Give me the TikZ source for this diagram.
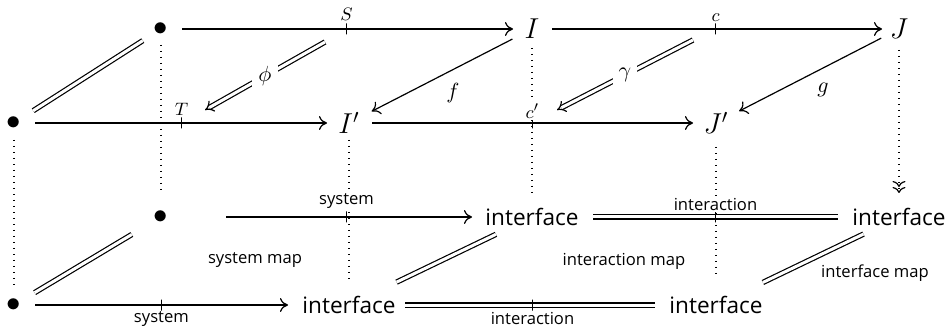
\documentclass[tikz,border=0pt]{standalone}
\usepackage{fontspec}
\setsansfont{Open Sans}
\usetikzlibrary{arrows.meta}
\begin{document}
\begin{tikzpicture}[x=0.5pt,y=-0.5pt, line width=0.6pt,
  mathnode/.style={inner sep=0pt, font=\fontsize{14.5pt}{17pt}\selectfont},
  dotnode/.style={inner sep=0pt, font=\fontsize{15.5pt}{17pt}\selectfont},
  sansnode/.style={inner sep=0pt, font=\fontsize{11.3pt}{13pt}\selectfont\sffamily},
  smalltext/.style={inner sep=1pt, font=\fontsize{8.3pt}{10pt}\selectfont\sffamily},
  lbl/.style={font=\fontsize{11pt}{13pt}\selectfont},
  tinylbl/.style={font=\fontsize{9.5pt}{11pt}\selectfont, inner sep=0pt},
  tickmark/.style={draw, rectangle, inner sep=0pt, minimum width=0pt, minimum height=5.5pt},
  arr/.style={-{Computer Modern Rightarrow[length=4pt,width=7pt]}},
  eqline/.style={double, double distance=1.5pt},
  twocell/.style={double, double distance=1.5pt, -{Implies}},
  dots/.style={dash pattern=on 0.6pt off 2.4pt},
  surj/.style={-{Computer Modern Rightarrow[length=3pt,width=6.5pt] Computer Modern Rightarrow[length=3pt,width=6.5pt]}},
]
\useasboundingbox (0,0) rectangle (949,326);
% nodes
\node[dotnode] (A) at (161,29) {$\bullet$};
\node[mathnode] (I) at (532,29) {$I$};
\node[mathnode] (J) at (899,29) {$J$};
\node[dotnode] (B) at (14,123) {$\bullet$};
\node[mathnode] (Ip) at (349,123) {$I'$};
\node[mathnode] (Jp) at (716,123) {$J'$};
\node[dotnode] (C) at (161,217) {$\bullet$};
\node[sansnode] (D) at (532,217) {interface};
\node[sansnode] (E) at (899,217) {interface};
\node[dotnode] (F) at (14,305) {$\bullet$};
\node[sansnode] (G) at (349,305) {interface};
\node[sansnode] (H) at (716,305) {interface};
\coordinate (phis) at (325,42);
\coordinate (phie) at (205,110);
\coordinate (gams) at (693,40);
\coordinate (game) at (557,110);
% dotted verticals
\draw[dots, shorten <=8pt, shorten >=12pt] (A.center) -- (C.center);
\draw[dots, shorten <=8.5pt, shorten >=8.5pt] (B.center) -- (F.center);
\draw[dots, shorten <=9.5pt, shorten >=12pt] (I.center) -- (D.center);
\draw[dots, shorten <=8.5pt, shorten >=12.5pt] (Ip.center) -- (G.center);
\draw[dots, shorten <=12pt, shorten >=13.5pt] (Jp.center) -- (H.center);
\draw[dots, surj, shorten <=10.5pt, shorten >=12pt] (J.center) -- (E.center);
% top layer
\draw[arr, shorten <=10.5pt, shorten >=9.5pt] (A.center) -- node[tickmark]{} node[tinylbl, yshift=7.3pt]{$S$} (I.center);
\draw[arr, shorten <=10pt, shorten >=8.5pt] (I.center) -- node[tickmark]{} node[tinylbl, yshift=5.8pt]{$c$} (J.center);
\draw[arr, shorten <=10.5pt, shorten >=11pt] (B.center) -- node[tickmark]{} node[tinylbl, yshift=6.8pt]{$T$} (Ip.center);
\draw[arr, shorten <=11.5pt, shorten >=11.5pt] (Ip.center) -- node[tickmark]{} node[tinylbl, fill=white, inner sep=0.5pt, yshift=6pt]{$c'$} (Jp.center);
\draw[arr, shorten <=11pt, shorten >=12.75pt] (I.center) -- node[lbl, pos=0.484, xshift=4.75pt, yshift=-9.25pt]{$f$} (Ip.center);
\draw[arr, shorten <=10pt, shorten >=13pt] (J.center) -- node[lbl, pos=0.464, xshift=4.5pt, yshift=-8.7pt]{$g$} (Jp.center);
\draw[eqline, shorten <=10.8pt, shorten >=11.4pt] (A.center) -- (B.center);
\draw[twocell] (phis) -- node[lbl, fill=white, inner sep=3pt]{$\phi$} (phie);
\draw[twocell] (gams) -- node[lbl, fill=white, inner sep=3pt]{$\gamma$} (game);
% bottom layer
\draw[arr, shorten <=32.5pt, shorten >=30pt] (C.center) -- node[tickmark]{} node[smalltext, fill=white, yshift=8pt]{system} (D.center);
\draw[eqline, shorten <=30.5pt, shorten >=30.5pt] (D.center) -- node[tickmark]{} node[smalltext, fill=white, yshift=6.5pt]{interaction} (E.center);
\draw[arr, shorten <=10.5pt, shorten >=30.5pt] (F.center) -- node[pos=0.44, tickmark]{} node[pos=0.44, smalltext, yshift=-6.8pt]{system} (G.center);
\draw[eqline, shorten <=28pt, shorten >=30.5pt] (G.center) -- node[tickmark]{} node[smalltext, yshift=-6.6pt]{interaction} (H.center);
\draw[eqline, shorten <=17pt, shorten >=12pt] (C.center) -- (F.center);
\draw[eqline, shorten <=20pt, shorten >=26.4pt] (D.center) -- (G.center);
\draw[eqline, shorten <=19.7pt, shorten >=26pt] (E.center) -- (H.center);
\node[smalltext] (sm) at (255,260) {system map};
\node[smalltext] (im) at (624,261) {interaction map};
\node[smalltext] (fm) at (875,273) {interface map};
\end{tikzpicture}
\end{document}
